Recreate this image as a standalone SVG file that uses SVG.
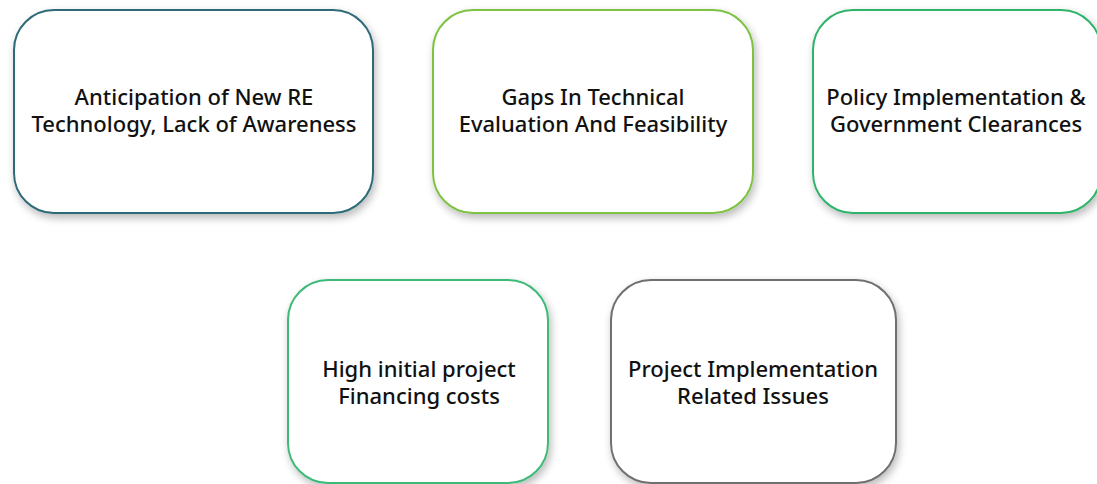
<svg xmlns="http://www.w3.org/2000/svg" width="1097" height="484" viewBox="0 0 1097 484">
  <defs>
    <filter id="shadow" x="-10%" y="-10%" width="125%" height="130%">
      <feGaussianBlur in="SourceAlpha" stdDeviation="4"/>
      <feOffset dx="2" dy="4" result="b"/>
      <feComponentTransfer><feFuncA type="linear" slope="0.28"/></feComponentTransfer>
      <feMerge><feMergeNode/><feMergeNode in="SourceGraphic"/></feMerge>
    </filter>
  </defs>
  <style>
    .box { fill: #ffffff; stroke-width: 2; filter: url(#shadow); }
    .label { font-family: "Noto Sans", "Lato", sans-serif; font-size: 22px; font-weight: 500; fill: #111111; text-anchor: middle; }
  </style>
  <rect width="1097" height="484" fill="#ffffff"/>

  <g id="node-anticipation">
    <rect class="box" x="14" y="10" width="359" height="203" rx="40" stroke="#2e6b78"/>
    <text class="label" x="194" y="105">Anticipation of New RE</text>
    <text class="label" x="194" y="132">Technology, Lack of Awareness</text>
  </g>

  <g id="node-gaps">
    <rect class="box" x="433" y="10" width="320" height="203" rx="40" stroke="#7dc242"/>
    <text class="label" x="593" y="105">Gaps In Technical</text>
    <text class="label" x="593" y="132">Evaluation And Feasibility</text>
  </g>

  <g id="node-policy">
    <rect class="box" x="813" y="10" width="288" height="203" rx="40" stroke="#2fb36a"/>
    <text class="label" x="956" y="105">Policy Implementation &amp;</text>
    <text class="label" x="956" y="132">Government Clearances</text>
  </g>

  <g id="node-financing">
    <rect class="box" x="288" y="280" width="260" height="203" rx="40" stroke="#3dba78"/>
    <text class="label" x="419" y="377">High initial project</text>
    <text class="label" x="419" y="404">Financing costs</text>
  </g>

  <g id="node-implementation">
    <rect class="box" x="611" y="280" width="285" height="203" rx="40" stroke="#707070"/>
    <text class="label" x="753" y="377">Project Implementation</text>
    <text class="label" x="753" y="404">Related Issues</text>
  </g>

  <g id="connectors"/>
</svg>
